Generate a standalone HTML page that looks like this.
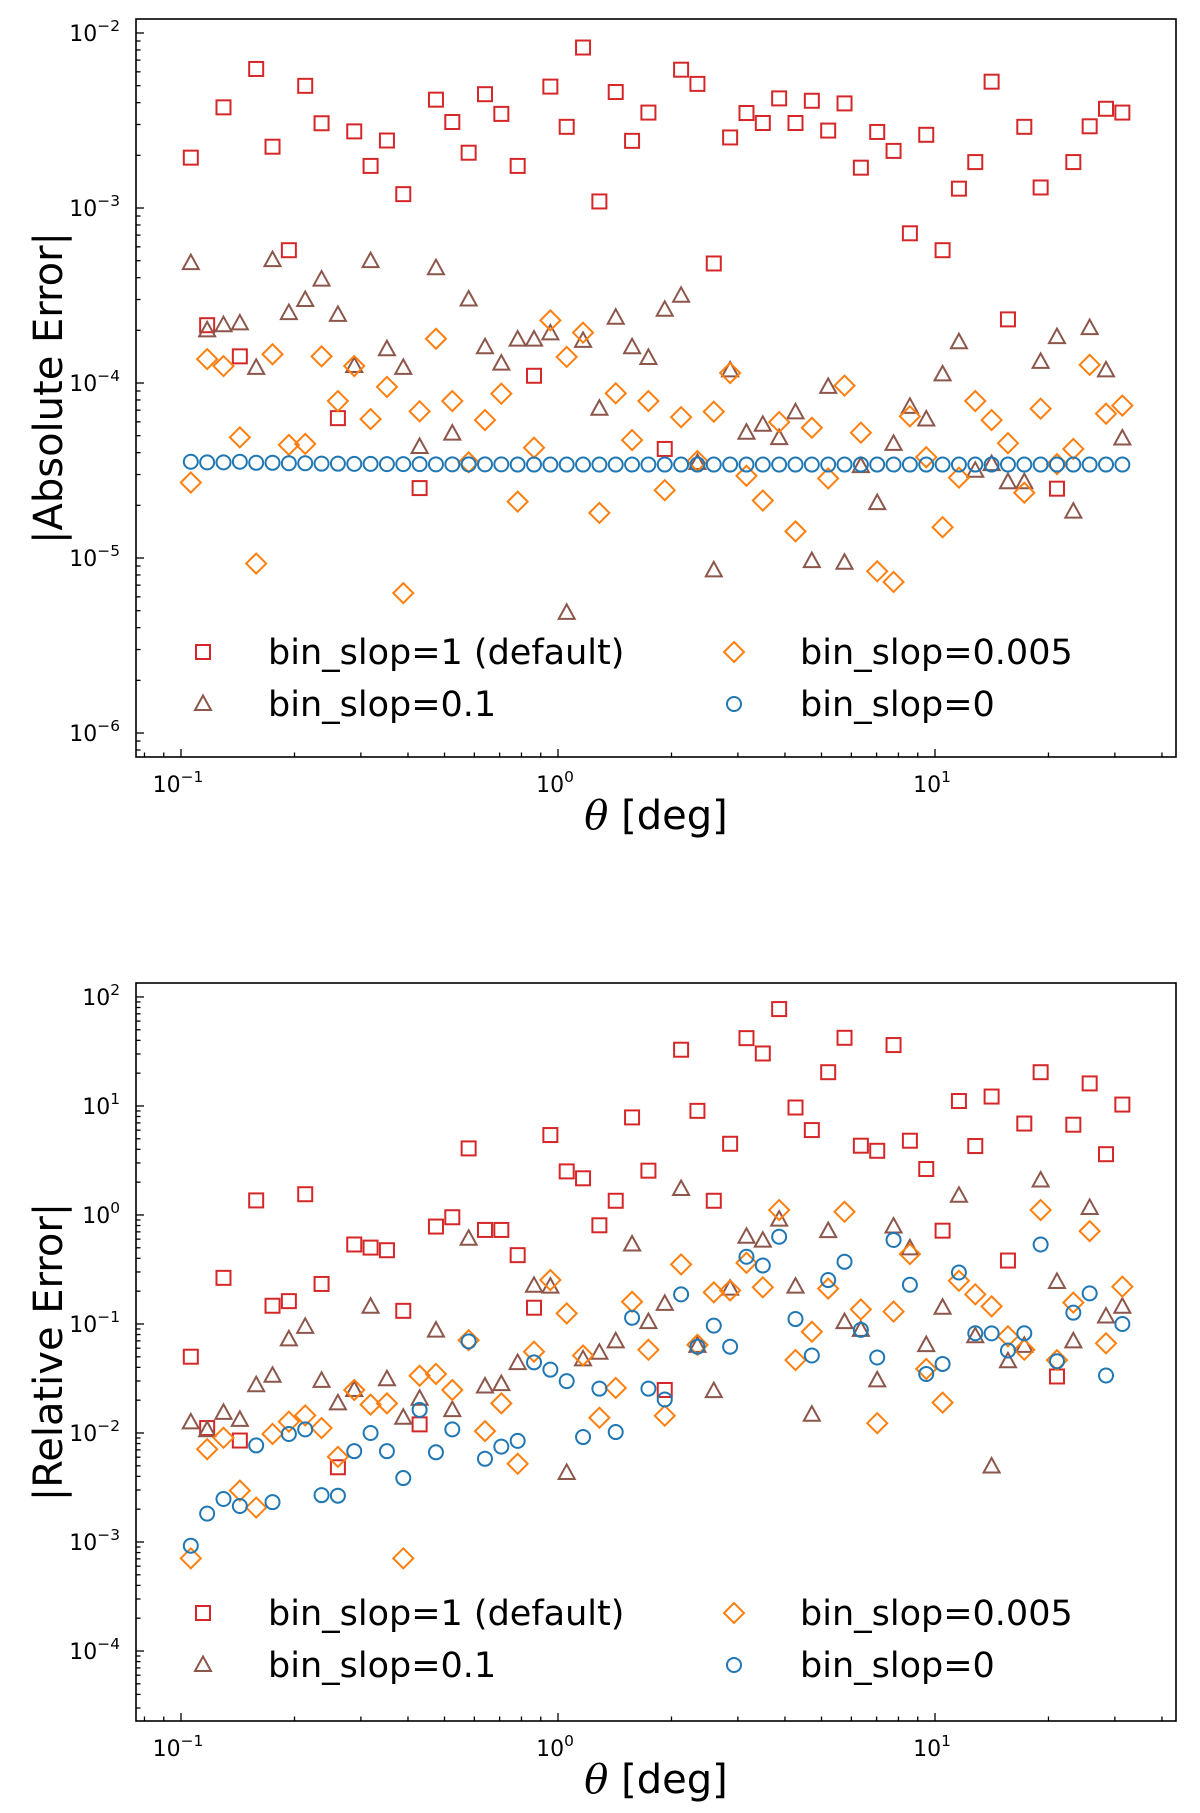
<!DOCTYPE html>
<html><head><meta charset="utf-8"><style>
html,body{margin:0;padding:0;background:#fff;}
svg{display:block;font-family:"DejaVu Sans","Liberation Sans",sans-serif;}
</style></head><body>
<svg id="chart" width="1200" height="1813" viewBox="0 0 1200 1813" xmlns="http://www.w3.org/2000/svg">
<g id="top"></g>
<g id="bot"></g>
</svg>
<script>
// theta bins (log-spaced)
const nBins = 58;
const thetaMinLog = -0.974;
const thetaMaxLog = 1.497;

// Absolute error panel
const absDefault = [1.94e-3,2.14e-4,3.76e-3,1.42e-4,6.23e-3,2.24e-3,5.74e-4,4.99e-3,3.05e-3,6.3e-5,2.74e-3,1.74e-3,2.43e-3,1.2e-3,2.51e-5,4.16e-3,3.1e-3,2.07e-3,4.47e-3,3.45e-3,1.74e-3,1.1e-4,4.94e-3,2.91e-3,8.26e-3,1.09e-3,4.6e-3,2.42e-3,3.51e-3,4.2e-5,6.17e-3,5.12e-3,4.82e-4,2.53e-3,3.49e-3,3.06e-3,4.23e-3,3.06e-3,4.1e-3,2.77e-3,3.96e-3,1.7e-3,2.72e-3,2.12e-3,7.17e-4,2.62e-3,5.74e-4,1.29e-3,1.83e-3,5.27e-3,2.31e-4,2.91e-3,1.31e-3,2.49e-5,1.83e-3,2.93e-3,3.69e-3,3.51e-3];
const absSlop01 = [4.84e-4,2.0e-4,2.14e-4,2.19e-4,1.22e-4,5.04e-4,2.51e-4,2.98e-4,3.9e-4,2.45e-4,1.25e-4,4.97e-4,1.56e-4,1.22e-4,4.31e-5,4.53e-4,5.14e-5,3.0e-4,1.6e-4,1.29e-4,1.77e-4,1.77e-4,1.92e-4,4.86e-6,1.74e-4,7.13e-5,2.36e-4,1.6e-4,1.39e-4,2.62e-4,3.15e-4,3.49e-5,8.5e-6,1.18e-4,5.2e-5,5.77e-5,4.84e-5,6.79e-5,9.6e-6,9.5e-5,9.4e-6,3.35e-5,2.06e-5,4.49e-5,7.31e-5,6.19e-5,1.12e-4,1.71e-4,3.15e-5,3.44e-5,2.71e-5,2.71e-5,1.32e-4,1.83e-4,1.84e-5,2.06e-4,1.18e-4,4.82e-5];
const absSlop0005 = [2.7e-5,1.37e-4,1.25e-4,4.89e-5,9.3e-6,1.46e-4,4.43e-5,4.49e-5,1.42e-4,7.89e-5,1.25e-4,6.22e-5,9.5e-5,6.3e-6,6.89e-5,1.79e-4,7.89e-5,3.52e-5,6.14e-5,8.69e-5,2.1e-5,4.27e-5,2.28e-4,1.41e-4,1.94e-4,1.81e-5,8.73e-5,4.72e-5,7.89e-5,2.44e-5,6.38e-5,3.58e-5,6.86e-5,1.14e-4,2.95e-5,2.13e-5,5.98e-5,1.42e-5,5.55e-5,2.85e-5,9.66e-5,5.2e-5,8.4e-6,7.3e-6,6.45e-5,3.77e-5,1.5e-5,2.88e-5,7.89e-5,6.14e-5,4.53e-5,2.36e-5,7.13e-5,3.44e-5,4.2e-5,1.27e-4,6.68e-5,7.43e-5];
const absSlop0 = [3.55e-5,3.52e-5,3.52e-5,3.55e-5,3.5e-5,3.5e-5,3.48e-5,3.48e-5,3.46e-5,3.46e-5,3.45e-5,3.45e-5,3.44e-5,3.44e-5,3.44e-5,3.43e-5,3.43e-5,3.43e-5,3.43e-5,3.43e-5,3.42e-5,3.42e-5,3.42e-5,3.42e-5,3.42e-5,3.42e-5,3.42e-5,3.42e-5,3.42e-5,3.42e-5,3.42e-5,3.42e-5,3.42e-5,3.42e-5,3.42e-5,3.42e-5,3.42e-5,3.42e-5,3.42e-5,3.42e-5,3.42e-5,3.42e-5,3.42e-5,3.42e-5,3.42e-5,3.42e-5,3.42e-5,3.42e-5,3.42e-5,3.42e-5,3.42e-5,3.42e-5,3.42e-5,3.42e-5,3.42e-5,3.42e-5,3.42e-5,3.42e-5];

// Relative error panel
const relDefault = [0.0501,0.0111,0.265,0.00853,1.36,0.147,0.162,1.55,0.233,0.00485,0.536,0.502,0.475,0.132,0.012,0.783,0.953,4.08,0.729,0.729,0.428,0.141,5.41,2.51,2.17,0.804,1.35,7.85,2.55,0.0248,32.8,9.02,1.35,4.5,41.9,30.3,77.4,9.68,6.01,20.4,42.2,4.32,3.88,36.2,4.8,2.64,0.718,11.1,4.29,12.2,0.382,6.9,20.4,0.033,6.73,16.1,3.61,10.3];
const relSlop01 = [0.0125,0.0106,0.0153,0.0132,0.0274,0.0335,0.0723,0.0942,0.0301,0.0187,0.0248,0.144,0.0311,0.0138,0.0206,0.0869,0.0162,0.605,0.0267,0.0281,0.0438,0.224,0.22,0.0043,0.0474,0.0544,0.0693,0.536,0.104,0.153,1.73,0.063,0.0242,0.211,0.631,0.581,0.906,0.22,0.0147,0.711,0.104,0.0883,0.0304,0.783,0.494,0.064,0.141,1.5,0.0771,0.00493,0.0455,0.063,2.07,0.243,0.0693,1.16,0.117,0.144];
const relSlop0005 = [0.000708,0.0071,0.00904,0.00296,0.00207,0.0098,0.0127,0.0145,0.0111,0.00604,0.0248,0.0182,0.0187,0.000708,0.0335,0.0348,0.0248,0.071,0.0104,0.0187,0.00522,0.0557,0.253,0.125,0.0514,0.0138,0.0259,0.16,0.058,0.0144,0.352,0.0644,0.195,0.203,0.364,0.217,1.11,0.0467,0.0849,0.211,1.07,0.136,0.0123,0.13,0.438,0.0387,0.019,0.249,0.187,0.145,0.0771,0.058,1.11,0.0466,0.157,0.711,0.0665,0.22];
const relSlop0 = [0.000925,0.00182,0.00248,0.00214,0.00769,0.00232,0.0098,0.0108,0.00269,0.00266,0.00681,0.01,0.00681,0.00386,0.0163,0.00665,0.0108,0.0693,0.0058,0.0075,0.00847,0.0445,0.0381,0.0299,0.00918,0.0255,0.0102,0.114,0.0255,0.0203,0.187,0.0619,0.0966,0.0619,0.414,0.344,0.631,0.111,0.0514,0.253,0.372,0.0883,0.0493,0.59,0.229,0.0348,0.043,0.297,0.0822,0.082,0.0571,0.0822,0.536,0.0455,0.127,0.191,0.0337,0.1];

const xTickExps = [-1, 0, 1];
const topYTickExps = [-6, -5, -4, -3, -2];
const botYTickExps = [-4, -3, -2, -1, 0, 1, 2];
const legendLabels = ["bin_slop=1 (default)", "bin_slop=0.1", "bin_slop=0.005", "bin_slop=0"];

const NS = "http://www.w3.org/2000/svg";
const COLORS = ["#d62728", "#8c564b", "#ff7f0e", "#1f77b4"];
const SHAPES = ["square", "triangle", "diamond", "circle"];

function mk(parent, tag, attrs) {
  const e = document.createElementNS(NS, tag);
  for (const k in attrs) e.setAttribute(k, attrs[k]);
  parent.appendChild(e);
  return e;
}

const L = 136, R = 1176;
const xLogMin = -1.1194, xLogMax = 1.6393;
function xScale(v) { return L + (Math.log10(v) - xLogMin) / (xLogMax - xLogMin) * (R - L); }

const thetas = [];
for (let i = 0; i < nBins; i++) thetas.push(Math.pow(10, thetaMinLog + i * (thetaMaxLog - thetaMinLog) / (nBins - 1)));

function marker(g, shape, color, cx, cy, name) {
  let e;
  if (shape === "square") e = mk(g, "rect", {x: cx - 7, y: cy - 7, width: 14, height: 14});
  else if (shape === "circle") e = mk(g, "circle", {cx: cx, cy: cy, r: 7});
  else if (shape === "diamond") e = mk(g, "polygon", {points: `${cx},${cy-10} ${cx+10},${cy} ${cx},${cy+10} ${cx-10},${cy}`});
  else e = mk(g, "polygon", {points: `${cx},${cy-8.5} ${cx+8},${cy+6} ${cx-8},${cy+6}`});
  e.setAttribute("fill", "none");
  e.setAttribute("stroke", color);
  e.setAttribute("stroke-width", "2");
  
  
  return e;
}

function supLabel(g, x, y, exp, anchor, size, name) {
  const t = mk(g, "text", {x: x, y: y, "text-anchor": anchor, "font-size": size, fill: "#000"});
  
  
  const a = mk(t, "tspan", {});
  a.textContent = "10";
  const b = mk(t, "tspan", {dy: -size * 0.45, "font-size": size * 0.7});
  b.textContent = exp < 0 ? "\u2212" + Math.abs(exp) : String(exp);
  return t;
}

function panel(g, T, B, yLogMin, yLogMax, yTicks, series, ylabel, legendY) {
  function yScale(v) { return B - (Math.log10(v) - yLogMin) / (yLogMax - yLogMin) * (B - T); }
  const clipId = "clip" + T;
  const cp = mk(g, "clipPath", {id: clipId});
  mk(cp, "rect", {x: L, y: T, width: R - L, height: B - T});
  const ticks = mk(g, "g", {stroke: "#000", "stroke-width": 1.3});
  
  
  for (let d = Math.floor(xLogMin); d <= Math.ceil(xLogMax); d++) {
    for (let m = 1; m < 10; m++) {
      const v = m * Math.pow(10, d);
      const lv = Math.log10(v);
      if (lv < xLogMin || lv > xLogMax) continue;
      const x = xScale(v);
      mk(ticks, "line", {x1: x, x2: x, y1: B, y2: B - (m === 1 ? 8 : 4.5)});
    }
  }
  for (let d = Math.floor(yLogMin); d <= Math.ceil(yLogMax); d++) {
    for (let m = 1; m < 10; m++) {
      const v = m * Math.pow(10, d);
      const lv = Math.log10(v);
      if (lv < yLogMin || lv > yLogMax) continue;
      const y = yScale(v);
      mk(ticks, "line", {x1: L, x2: L + (m === 1 ? 8 : 4.5), y1: y, y2: y});
    }
  }
  xTickExps.forEach(e => {
    supLabel(g, xScale(Math.pow(10, e)) - 3, B + 35, e, "middle", 22, "x-tick-label");
  });
  yTicks.forEach(e => {
    supLabel(g, L - 16, yScale(Math.pow(10, e)) + 8, e, "end", 22, "y-tick-label");
  });
  const plot = mk(g, "g", {"clip-path": `url(#${clipId})`});
  
  
  series.forEach((vals, s) => {
    const sg = mk(plot, "g", {});
    
    
    vals.forEach((v, i) => {
      marker(sg, SHAPES[s], COLORS[s], xScale(thetas[i]), yScale(v), "point");
    });
  });
  const fr = mk(g, "rect", {x: L, y: T, width: R - L, height: B - T, fill: "none", stroke: "#000", "stroke-width": 1.6});
  
  
  const lg = mk(g, "g", {});
  
  
  const pos = [[203, 268, 0], [203, 268, 1], [734, 800, 0], [734, 800, 1]];
  legendLabels.forEach((lab, k) => {
    const [mx, tx, row] = pos[k];
    const y = legendY + row * 52;
    marker(lg, SHAPES[k], COLORS[k], mx, y, "legend-marker");
    const t = mk(lg, "text", {x: tx, y: y + 12, "font-size": 35, fill: "#000"});
    
    
    t.textContent = lab;
  });
  const yl = mk(g, "text", {x: 0, y: 0, "font-size": 40, "text-anchor": "middle", fill: "#000",
    transform: `translate(62,${(T + B) / 2}) rotate(-90)`});
  
  
  yl.textContent = ylabel;
  const xl = mk(g, "text", {x: 656, y: B + 72, "font-size": 40, "text-anchor": "middle", fill: "#000"});
  
  
  const th = mk(xl, "tspan", {"font-style": "italic", "font-family": "'DejaVu Serif','Liberation Serif',serif"});
  th.textContent = "\u03b8";
  const rest = mk(xl, "tspan", {});
  rest.textContent = " [deg]";
}

panel(document.getElementById("top"), 19, 757, -6.137, -1.92, topYTickExps,
  [absDefault, absSlop01, absSlop0005, absSlop0], "|Absolute Error|", 652);
panel(document.getElementById("bot"), 983, 1721, -4.642, 2.128, botYTickExps,
  [relDefault, relSlop01, relSlop0005, relSlop0], "|Relative Error|", 1613);
</script>
</body></html>
